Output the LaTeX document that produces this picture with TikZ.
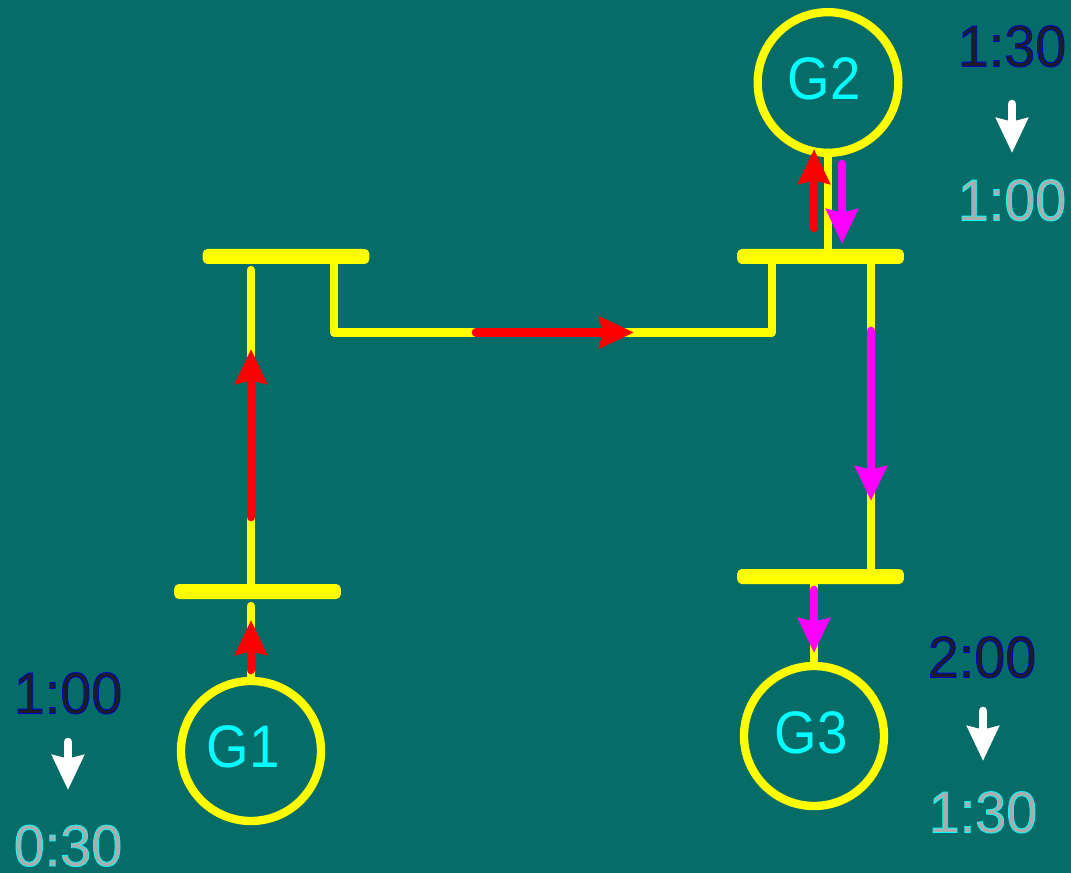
\documentclass[tikz,border=0pt]{standalone}
\usepackage{fontspec}
\setmainfont{Liberation Sans}
\newfontfamily\narrowSans[FakeStretch=0.91]{Liberation Sans}
\newfontfamily\timeSans[FakeStretch=0.95]{Liberation Sans}
\usetikzlibrary{arrows.meta}
\definecolor{backTeal}{RGB}{6,108,104}
\definecolor{timeDark}{RGB}{28,28,40}
\definecolor{timeGrey}{RGB}{172,172,172}
\definecolor{lineYellow}{RGB}{255,255,0}
\definecolor{genCyan}{RGB}{0,255,255}
\definecolor{flowRed}{RGB}{255,0,0}
\definecolor{flowMagenta}{RGB}{255,0,255}
\newcommand{\darkTime}[1]{\color{timeDark}\special{pdf:code 2 Tr 0 0 0.8 RG 0.6 w}#1\special{pdf:code 0 Tr}}
\newcommand{\greyTime}[1]{\color{timeGrey}\special{pdf:code 2 Tr 0 1 1 RG 0.6 w}#1\special{pdf:code 0 Tr}}
\begin{document}
\begin{tikzpicture}[x=0.75pt,y=-0.75pt]
    \tikzstyle{genCircle}=[draw=lineYellow,line width=6.25pt,circle,inner sep=0pt,outer sep=0pt]
    \tikzstyle{genText}=[anchor=base,inner sep=0pt,text=genCyan,font=\narrowSans\fontsize{45}{45}\selectfont]
    \tikzstyle{busBar}=[fill=lineYellow,rounded corners=3.5pt,minimum width=125pt,minimum height=11.25pt,inner sep=0pt,outer sep=0pt]
    \tikzstyle{feeder}=[draw=lineYellow,line width=6.25pt,line cap=round,line join=round]
    \tikzstyle{flowTip}=[-{Stealth[length=26pt,width=23.5pt,inset=2.5pt]},line width=6.5pt,line cap=round]
    \tikzstyle{timeText}=[anchor=base,inner sep=0pt,font=\timeSans\fontsize{44}{44}\selectfont]

    \fill[backTeal] (0,0) rectangle (1071,873);
    \useasboundingbox (0,0) rectangle (1071,873);

    \node[genCircle,minimum size=105pt] (G1) at (251,751) {};
    \node[genCircle,minimum size=105.5pt] (G2) at (828,82.5) {};
    \node[genCircle,minimum size=105pt] (G3) at (814,736) {};
    \node[genText] (G1text) at (243,767) {G1};
    \node[genText] (G2text) at (824,100) {G2};
    \node[genText] (G3text) at (811,753) {G3};

    \node[busBar] (busA) at (286,256.5) {};
    \node[busBar] (busB) at (820.5,256.5) {};
    \node[busBar] (busC) at (820.5,576.5) {};
    \node[busBar] (busD) at (257.5,591.5) {};

    \coordinate (g1Stub) at (251,606);
    \coordinate (busAfoot) at (251,270);
    \coordinate (busDleft) at (251,591);
    \coordinate (busAdrop) at (334,256);
    \coordinate (cornerA) at (334,332.5);
    \coordinate (cornerB) at (772,332.5);
    \coordinate (busBdrop) at (772,256);
    \coordinate (busBright) at (871,256);
    \coordinate (busCright) at (871,576);
    \coordinate (busBtop) at (828,256);
    \coordinate (busCfoot) at (814,576);

    \draw[feeder] (G1.north) -- (g1Stub);
    \draw[feeder] (busDleft) -- (busAfoot);
    \draw[feeder] (busAdrop) -- (cornerA) -- (cornerB) -- (busBdrop);
    \draw[feeder] (busBright) -- (busCright);
    \draw[feeder] (G2.south) -- (busBtop);
    \draw[feeder] (busCfoot) -- (G3.north);

    % red flows
    \coordinate (r1a) at (251,670);
    \coordinate (r1b) at (251,620);
    \coordinate (r2a) at (251,517);
    \coordinate (r2b) at (251,349);
    \coordinate (r3a) at (476,332.5);
    \coordinate (r3b) at (634,332.5);
    \coordinate (r4a) at (814,228);
    \coordinate (r4b) at (814,149);
    \draw[flowTip,flowRed] (r1a) -- (r1b);
    \draw[flowTip,flowRed] (r2a) -- (r2b);
    \draw[flowTip,flowRed] (r3a) -- (r3b);
    \draw[flowTip,flowRed] (r4a) -- (r4b);

    % magenta flows
    \coordinate (m1a) at (842,164);
    \coordinate (m1b) at (842,244);
    \coordinate (m2a) at (871,331);
    \coordinate (m2b) at (871,501);
    \coordinate (m3a) at (814,590);
    \coordinate (m3b) at (814,653);
    \draw[flowTip,flowMagenta] (m1a) -- (m1b);
    \draw[flowTip,flowMagenta] (m2a) -- (m2b);
    \draw[flowTip,flowMagenta] (m3a) -- (m3b);

    \node[timeText] (t2old) at (1012,66.5) {\darkTime{1:30}};
    \node[timeText] (t2new) at (1012,220.5) {\greyTime{1:00}};
    \node[timeText] (t1old) at (68,713.5) {\darkTime{1:00}};
    \node[timeText] (t1new) at (68,866) {\greyTime{0:30}};
    \node[timeText] (t3old) at (982,677.5) {\darkTime{2:00}};
    \node[timeText] (t3new) at (983,832.5) {\greyTime{1:30}};

    % white arrows between the times
    \coordinate (w2a) at (1012,104);
    \coordinate (w2b) at (1012,153);
    \coordinate (w1a) at (68,742);
    \coordinate (w1b) at (68,790);
    \coordinate (w3a) at (983,711);
    \coordinate (w3b) at (983,761);
    \draw[flowTip,white] (w2a) -- (w2b);
    \draw[flowTip,white] (w1a) -- (w1b);
    \draw[flowTip,white] (w3a) -- (w3b);
\end{tikzpicture}
\end{document}
